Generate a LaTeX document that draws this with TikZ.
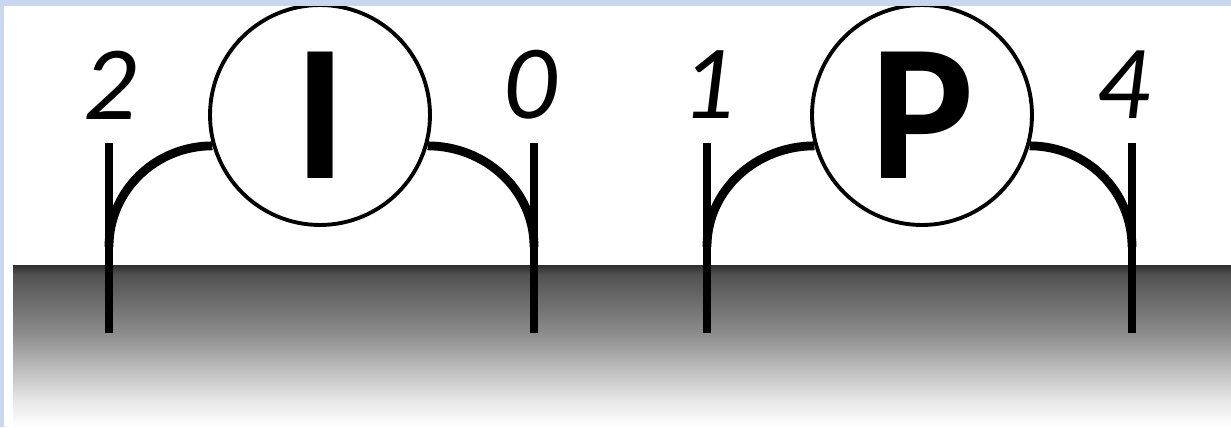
\documentclass[tikz,border=0pt]{standalone}
\usepackage{fontspec}
\usepackage{tikz}
\usetikzlibrary{positioning}
\newfontfamily\relfont{Carlito}
\definecolor{framebg}{RGB}{200,214,240}
\pgfdeclareverticalshading{groundfade}{100bp}{color(0bp)=(white); color(25bp)=(white); color(33bp)=(black!9); color(54bp)=(black!45); color(72bp)=(black!68); color(75bp)=(black!82); color(100bp)=(black!82)}

\begin{document}
\begin{tikzpicture}[
    x=0.02cm, y=0.02cm,
    leg/.style={line width=5pt},
    arm/.style={line width=5pt},
    bubble/.style={circle, draw, line width=2.2pt, fill=white, minimum size=4.4cm, inner sep=0pt, font=\relfont\bfseries\fontsize{111}{111}\selectfont},
    tag/.style={font=\relfont\itshape\fontsize{60}{60}\selectfont}
]
\useasboundingbox (0,0) rectangle (1231,427);
\fill[white] (0,0) rectangle (1231,427);
\shade[shading=groundfade] (13,0) rectangle (1231,162);

\coordinate (iLtop) at (109,284);
\coordinate (iLbot) at (109,94);
\coordinate (iLjoin) at (109,180);
\coordinate (iRtop) at (534,284);
\coordinate (iRbot) at (534,94);
\coordinate (iRjoin) at (534,180);
\coordinate (pLtop) at (707,284);
\coordinate (pLbot) at (707,94);
\coordinate (pLjoin) at (707,180);
\coordinate (pRtop) at (1132,284);
\coordinate (pRbot) at (1132,94);
\coordinate (pRjoin) at (1132,180);

\node[bubble] (unitI) at (320,312) {I};
\node[bubble] (unitP) at (922,312) {P};

\draw[leg] (iLtop) -- (iLbot);
\draw[leg] (iRtop) -- (iRbot);
\draw[leg] (pLtop) -- (pLbot);
\draw[leg] (pRtop) -- (pRbot);

\draw[arm] (unitI.196) to[out=180, in=90] (iLjoin);
\draw[arm] (unitI.344) to[out=0, in=90] (iRjoin);
\draw[arm] (unitP.196) to[out=180, in=90] (pLjoin);
\draw[arm] (unitP.344) to[out=0, in=90] (pRjoin);

\node[tag] (valI2) at (110,342) {2};
\node[tag] (valI0) at (530,342) {0};
\node[tag] (valP1) at (708,342) {1};
\node[tag] (valP4) at (1123,342) {4};

\fill[framebg] (0,421) rectangle (1231,427);
\fill[framebg] (0,0) rectangle (4,427);
\end{tikzpicture}
\end{document}
